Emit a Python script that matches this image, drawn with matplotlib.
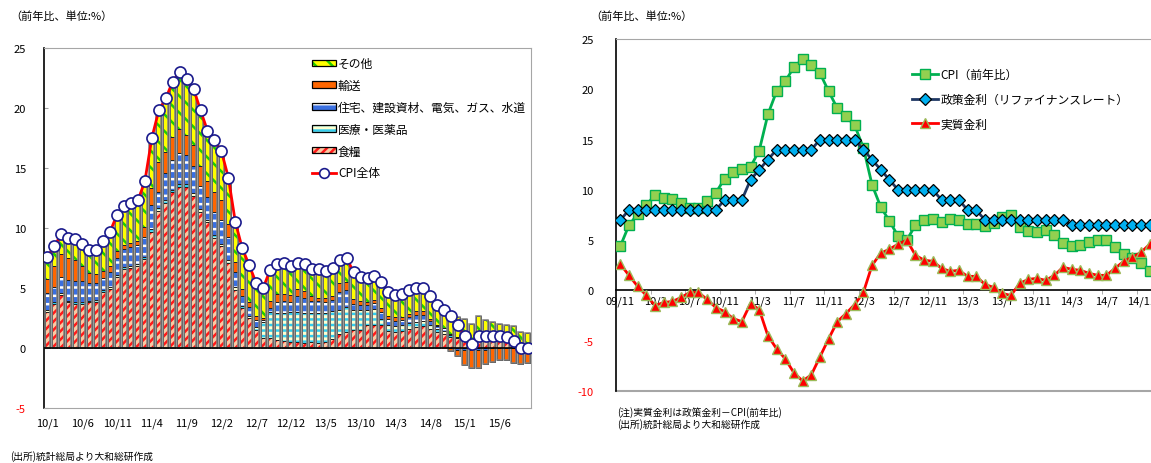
import matplotlib
matplotlib.use('Agg')
import matplotlib.pyplot as plt
from matplotlib.patches import Patch
from matplotlib.lines import Line2D
import numpy as np

plt.rcParams['font.family'] = ['Noto Sans CJK JP', 'DejaVu Sans']
plt.rcParams['hatch.linewidth'] = 1.8
plt.rcParams['axes.unicode_minus'] = False

# ---- left panel: CPI contributions, 2010/1 - 2015/10 ----
left_ticklabels = ['10/1', '10/6', '10/11', '11/4', '11/9', '12/2', '12/7', '12/12',
                   '13/5', '13/10', '14/3', '14/8', '15/1', '15/6']

cpi_total = [7.6, 8.5, 9.5, 9.2, 9.1, 8.7, 8.2, 8.2, 8.9, 9.7,
             11.1, 11.8, 12.1, 12.3, 13.9, 17.5, 19.8, 20.8, 22.2, 23.0,
             22.4, 21.6, 19.8, 18.1, 17.3, 16.4, 14.2, 10.5, 8.3, 6.9,
             5.4, 5.0, 6.5, 7.0, 7.1, 6.8, 7.1, 7.0, 6.6, 6.6,
             6.4, 6.7, 7.3, 7.5, 6.3, 5.9, 5.8, 6.0, 5.5, 4.7,
             4.4, 4.5, 4.8, 5.0, 5.0, 4.3, 3.6, 3.2, 2.7, 1.9,
             1.0, 0.3, 1.0, 1.0, 1.0, 1.0, 0.9, 0.6, 0.0, 0.0]

food = [3.0, 3.65, 4.4, 3.8, 3.7, 3.65, 3.8, 3.85, 4.65, 4.9,
        5.9, 6.6, 6.65, 6.85, 7.4, 9.7, 11.45, 12.1, 13.0, 13.4,
        13.4, 12.7, 11.35, 10.5, 9.2, 8.5, 7.1, 4.85, 3.3, 2.5,
        1.5, 0.85, 0.8, 0.7, 0.6, 0.5, 0.5, 0.45, 0.5, 0.45,
        0.5, 0.75, 1.15, 1.35, 1.5, 1.5, 1.9, 1.9, 1.95, 1.45,
        1.3, 1.4, 1.55, 1.75, 1.8, 1.6, 1.3, 1.2, 0.95, 0.8,
        0.7, 0.6, 0.7, 0.6, 0.6, 0.6, 0.55, 0.5, 0.35, 0.3]

medical = [0.2, 0.2, 0.15, 0.15, 0.15, 0.15, 0.15, 0.15, 0.15, 0.15,
           0.2, 0.15, 0.15, 0.15, 0.2, 0.2, 0.2, 0.2, 0.2, 0.25,
           0.25, 0.2, 0.2, 0.2, 0.2, 0.2, 0.2, 0.25, 0.2, 0.2,
           0.25, 1.3, 2.2, 2.2, 2.35, 2.5, 2.5, 2.5, 2.45, 2.5,
           2.45, 2.3, 2.05, 2.05, 1.7, 1.7, 1.25, 1.35, 0.5, 0.45,
           0.5, 0.5, 0.5, 0.45, 0.45, 0.35, 0.3, 0.25, 0.15, 0.1,
           0.1, 0.1, 0.1, 0.1, 0.1, 0.1, 0.1, 0.1, 0.1, 0.1]

housing = [1.35, 1.25, 1.35, 1.75, 1.75, 1.75, 1.45, 1.45, 1.0, 1.25,
           1.4, 1.5, 1.65, 1.6, 1.65, 2.0, 1.35, 2.25, 2.45, 2.6,
           2.45, 2.3, 1.95, 1.9, 1.9, 2.0, 1.95, 1.2, 0.85, 0.7,
           0.6, 0.15, 0.35, 0.9, 1.0, 0.85, 1.35, 1.2, 1.0, 0.95,
           0.9, 0.95, 1.5, 1.45, 0.45, 0.4, 0.4, 0.5, 0.55, 0.5,
           0.45, 0.4, 0.5, 0.55, 0.5, 0.3, 0.25, 0.2, 0.1, -0.2,
           -0.2, -0.2, -0.2, -0.15, 0.05, 0.05, 0.05, 0.05, 0.05, 0.05]

transport = [1.2, 1.75, 1.9, 1.8, 1.7, 1.3, 0.85, 0.75, 0.65, 0.5,
             0.55, 0.35, 0.3, 0.35, 0.85, 1.45, 2.5, 1.8, 1.9, 2.0,
             1.65, 1.7, 1.7, 1.3, 1.7, 1.65, 1.1, 0.85, 0.6, 0.4,
             0.3, 0.2, 0.6, 0.7, 0.55, 0.6, 0.6, 0.6, 0.35, 0.3,
             0.3, 0.35, 0.7, 0.65, 0.4, 0.3, 0.25, 0.25, 0.35, 0.3,
             0.3, 0.25, 0.3, 0.3, 0.3, 0.2, 0.1, 0.0, -0.25, -0.45,
             -1.2, -1.5, -1.45, -1.2, -1.15, -1.0, -1.0, -1.25, -1.3, -1.25]

others = [1.85, 1.6, 1.7, 1.7, 1.75, 1.85, 1.95, 2.0, 2.45, 2.9,
          3.05, 3.2, 3.35, 3.35, 3.8, 4.15, 4.3, 4.45, 4.65, 4.75,
          4.65, 4.7, 4.6, 4.2, 4.3, 4.05, 3.85, 3.35, 3.35, 3.1,
          2.75, 2.5, 2.55, 2.5, 2.6, 2.35, 2.15, 2.25, 2.3, 2.4,
          2.25, 2.35, 1.9, 2.0, 2.25, 2.0, 2.0, 2.0, 2.15, 2.0,
          1.85, 1.9, 1.95, 2.0, 1.95, 1.85, 1.65, 1.55, 1.75, 1.65,
          1.6, 1.3, 1.85, 1.65, 1.4, 1.25, 1.2, 1.2, 0.8, 0.8]

# ---- right panel: CPI, refinancing rate, real rate, 2009/11 - 2014/12 ----
right_ticklabels = ['09/11', '10/3', '10/7', '10/11', '11/3', '11/7', '11/11', '12/3',
                    '12/7', '12/11', '13/3', '13/7', '13/11', '14/3', '14/7', '14/11']

cpi_yoy = [4.4, 6.5, 7.6, 8.5, 9.5, 9.2, 9.1, 8.7, 8.2, 8.2,
           8.9, 9.7, 11.1, 11.8, 12.1, 12.3, 13.9, 17.5, 19.8, 20.8,
           22.2, 23.0, 22.4, 21.6, 19.8, 18.1, 17.3, 16.4, 14.2, 10.5,
           8.3, 6.9, 5.4, 5.0, 6.5, 7.0, 7.1, 6.8, 7.1, 7.0,
           6.6, 6.6, 6.4, 6.7, 7.3, 7.5, 6.3, 5.9, 5.8, 6.0,
           5.5, 4.7, 4.4, 4.5, 4.8, 5.0, 5.0, 4.3, 3.6, 3.2,
           2.7, 1.9]

policy_rate = [7, 8, 8, 8, 8, 8, 8, 8, 8, 8,
               8, 8, 9, 9, 9, 11, 12, 13, 14, 14,
               14, 14, 14, 15, 15, 15, 15, 15, 14, 13,
               12, 11, 10, 10, 10, 10, 10, 9, 9, 9,
               8, 8, 7, 7, 7, 7, 7, 7, 7, 7,
               7, 7, 6.5, 6.5, 6.5, 6.5, 6.5, 6.5, 6.5, 6.5,
               6.5, 6.5]

real_rate = [2.6, 1.5, 0.4, -0.5, -1.5, -1.2, -1.1, -0.7, -0.2, -0.2,
             -0.9, -1.7, -2.1, -2.8, -3.1, -1.3, -1.9, -4.5, -5.8, -6.8,
             -8.2, -9.0, -8.4, -6.6, -4.8, -3.1, -2.3, -1.4, -0.2, 2.5,
             3.7, 4.1, 4.6, 5.0, 3.5, 3.0, 2.9, 2.2, 1.9, 2.0,
             1.4, 1.4, 0.6, 0.3, -0.3, -0.5, 0.7, 1.1, 1.2, 1.0,
             1.5, 2.3, 2.1, 2.0, 1.7, 1.5, 1.5, 2.2, 2.9, 3.3,
             3.8, 4.6]

W, H = 1151, 464
fig = plt.figure(figsize=(W / 100, H / 100), dpi=100)
ax1 = fig.add_axes([44 / W, 55 / H, 487 / W, 360 / H])
ax2 = fig.add_axes([616 / W, 72 / H, 535 / W, 352 / H])

# stacked contribution bars (positive parts up, negative parts down)
layers = [
    ('食糧', food, '#FBC9A3', '////', '#FF1A1A'),
    ('医療・医薬品', medical, '#FFFFD0', '---', '#33CCEE'),
    ('住宅、建設資材、電気、ガス、水道', housing, '#3A6FE0', '--', '#FFFFFF'),
    ('輸送', transport, '#FF6600', '', '#FF6600'),
    ('その他', others, '#FFFF00', '\\\\', '#22CC00'),
]
x = np.arange(len(cpi_total))
bw = 0.72
pos_base = np.zeros(len(x))
neg_base = np.zeros(len(x))
for name, vals, face, hatch, hcol in layers:
    v = np.array(vals, dtype=float)
    pos = np.clip(v, 0, None)
    neg = np.clip(v, None, 0)
    for part, base in ((pos, pos_base), (neg, neg_base)):
        m = part != 0
        ax1.bar(x[m], part[m], bw, bottom=base[m], color=face, hatch=hatch,
                edgecolor=hcol, linewidth=0, zorder=2)
        ax1.bar(x[m], part[m], bw, bottom=base[m], fill=False,
                edgecolor='#202020', linewidth=0.7, zorder=3)
    pos_base = pos_base + pos
    neg_base = neg_base + neg
ax1.bar(x, pos_base - neg_base, bw, bottom=neg_base, fill=False,
        edgecolor='#808080', linewidth=1.1, zorder=3.5)

ax1.plot(x, cpi_total, color='#FF0000', lw=2, marker='o', ms=8,
         mfc='white', mec='#1A1A8C', mew=1.2, zorder=5)
ax1.axhline(0, color='black', lw=1.2, zorder=4)

ax1.set_xlim(-0.5, len(x) - 0.5)
ax1.set_ylim(-5, 25)
ax1.set_yticks(range(-5, 26, 5))
ax1.set_xticks(range(0, len(x), 5))
ax1.set_xticklabels(left_ticklabels)
ax1.tick_params(axis='x', length=0, pad=7, labelsize=8)
ax1.tick_params(axis='y', direction='in', length=3, color='#A0A0A0', pad=13, labelsize=8)
for lab in ax1.get_yticklabels():
    if lab.get_text().startswith('-'):
        lab.set_color('red')
for s in ('top', 'right', 'bottom'):
    ax1.spines[s].set_color('#A6A6A6')
ax1.spines['left'].set_color('black')
ax1.spines['left'].set_linewidth(1.2)

leg_handles = []
leg_labels = []
for name, vals, face, hatch, hcol in layers[::-1]:
    leg_handles.append((Patch(facecolor=face, hatch=hatch, edgecolor=hcol, linewidth=0),
                        Patch(fill=False, edgecolor='black', linewidth=0.9)))
    leg_labels.append(name)
leg_handles.append(Line2D([], [], color='#FF0000', lw=2, marker='o', ms=7,
                          mfc='white', mec='#1A1A8C', mew=1.2))
leg_labels.append('CPI全体')
ax1.legend(leg_handles, leg_labels, loc='upper left',
           bbox_to_anchor=(312 / W, 1 - 58 / H), bbox_transform=fig.transFigure,
           frameon=False, fontsize=8.5, handlelength=2.0, handleheight=0.45,
           handletextpad=0.2, labelspacing=0.75, borderpad=0, borderaxespad=0)

# right panel lines
xr = np.arange(len(cpi_yoy))
ax2.plot(xr, cpi_yoy, color='#00B050', lw=2, marker='s', ms=7,
         mfc='#92D050', mec='#00B050', mew=1, zorder=3, label='CPI（前年比）')
ax2.plot(xr, policy_rate, color='#1F3864', lw=2, marker='D', ms=6.2,
         mfc='#00B0F0', mec='black', mew=0.9, zorder=4,
         label='政策金利（リファイナンスレート）')
ax2.plot(xr, real_rate, color='#FF0000', lw=2, marker='^', ms=7.5,
         mfc='#FF0000', mec='#9BBB59', mew=1, zorder=5, label='実質金利')

ax2.set_xlim(-0.5, -0.5 + 535 / 8.68)
ax2.set_ylim(-10, 25)
ax2.set_yticks(range(-10, 26, 5))
ax2.set_xticks(range(0, len(xr), 4))
ax2.set_xticklabels(right_ticklabels)
ax2.set_xticks(np.arange(3.5, len(xr), 4), minor=True)
ax2.tick_params(axis='x', which='major', length=0, pad=4, labelsize=8)
ax2.tick_params(axis='x', which='minor', length=3, direction='out', color='#A0A0A0')
ax2.tick_params(axis='y', length=0, pad=16, labelsize=8)
for lab in ax2.get_yticklabels():
    if lab.get_text().startswith('-'):
        lab.set_color('red')
ax2.spines['bottom'].set_position(('data', 0))
ax2.spines['bottom'].set_color('black')
ax2.spines['bottom'].set_linewidth(1.2)
ax2.spines['left'].set_color('black')
ax2.spines['left'].set_linewidth(1.2)
ax2.spines['top'].set_color('#A6A6A6')
ax2.spines['right'].set_visible(False)
ax2.axhline(-10, color='#A6A6A6', lw=1.5, clip_on=False)
ax2.legend(loc='upper left', bbox_to_anchor=(912 / W, 1 - 69 / H),
           bbox_transform=fig.transFigure, frameon=False, fontsize=8.5,
           handlelength=2.2, handletextpad=0.2, labelspacing=1.0,
           borderpad=0, borderaxespad=0)

# titles and notes
fig.text(10 / W, 1 - 17 / H, '（前年比、単位:%）', fontsize=8, va='center')
fig.text(590 / W, 1 - 17 / H, '（前年比、単位:%）', fontsize=8, va='center')
fig.text(10 / W, 1 - 457 / H, '(出所)統計総局より大和総研作成', fontsize=7, va='center')
fig.text(617 / W, 1 - 413 / H, '(注)実質金利は政策金利－CPI(前年比)', fontsize=7, va='center')
fig.text(617 / W, 1 - 425 / H, '(出所)統計総局より大和総研作成', fontsize=7, va='center')

fig.savefig('out.png', dpi=100)
